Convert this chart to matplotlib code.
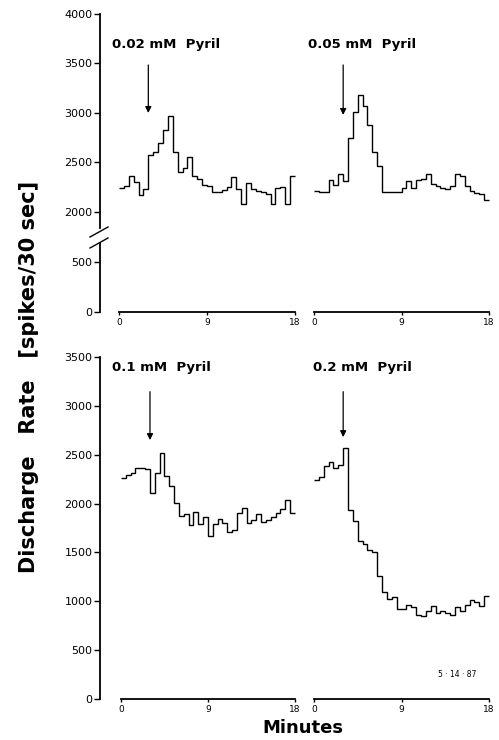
import numpy as np
import matplotlib.pyplot as plt

# 30-second bins over the 18 minute recording
bin_edges = np.linspace(0, 18, 37)

# discharge rate (spikes / 30 sec) per bin
rate_002 = [2240, 2265, 2365, 2305, 2175, 2230, 2575, 2610, 2700, 2830, 2965, 2610,
            2405, 2440, 2555, 2365, 2330, 2275, 2265, 2205, 2205, 2225, 2250, 2350,
            2230, 2080, 2295, 2230, 2215, 2205, 2185, 2080, 2240, 2250, 2080, 2360]
rate_005 = [2210, 2205, 2200, 2325, 2275, 2380, 2315, 2750, 3010, 3180, 3075, 2880,
            2610, 2460, 2205, 2200, 2200, 2205, 2245, 2315, 2245, 2325, 2330, 2380,
            2280, 2265, 2245, 2230, 2265, 2380, 2365, 2265, 2210, 2190, 2180, 2120]
rate_01 = [2260, 2290, 2310, 2365, 2360, 2350, 2105, 2310, 2520, 2280, 2175, 2005,
           1870, 1895, 1780, 1910, 1790, 1865, 1670, 1790, 1840, 1800, 1705, 1725,
           1900, 1950, 1800, 1835, 1895, 1815, 1835, 1865, 1900, 1940, 2035, 1900]
rate_02 = [2245, 2275, 2385, 2430, 2360, 2395, 2565, 1935, 1820, 1620, 1585, 1525,
           1500, 1255, 1090, 1020, 1040, 920, 920, 965, 945, 860, 850, 905,
           950, 885, 905, 885, 860, 940, 905, 965, 1015, 995, 950, 1055]

doses = ['0.02 mM  Pyril', '0.05 mM  Pyril', '0.1 mM  Pyril', '0.2 mM  Pyril']
inject_min = 3

top_ticks = [2000, 2500, 3000, 3500, 4000]
break_ticks = [0, 500]
bottom_ticks = [0, 500, 1000, 1500, 2000, 2500, 3000, 3500]
x_ticks = [0, 9, 18]

W, H = 499, 740
fig = plt.figure(figsize=(W / 100, H / 100), dpi=100)
plt.rcParams['font.family'] = 'DejaVu Sans'


def box(x0, y0, x1, y1):
    return [x0 / W, 1 - y1 / H, (x1 - x0) / W, (y1 - y0) / H]


def clean(ax):
    for s in ax.spines.values():
        s.set_visible(False)
    ax.set_xticks([])
    ax.set_yticks([])
    ax.patch.set_alpha(0)


def style_y(ax, ticks, lo, hi):
    ax.spines['left'].set_visible(True)
    ax.spines['left'].set_bounds(lo, hi)
    ax.spines['left'].set_linewidth(1.3)
    ax.set_yticks(ticks)
    ax.set_yticklabels([str(t) for t in ticks])
    ax.tick_params(axis='y', direction='out', length=4, width=1, pad=1.5,
                   labelsize=8)


def style_x(ax):
    ax.spines['bottom'].set_visible(True)
    ax.spines['bottom'].set_bounds(0, 18)
    ax.spines['bottom'].set_linewidth(1.3)
    ax.set_xticks(x_ticks)
    ax.tick_params(axis='x', direction='out', length=2.5, width=1, pad=2,
                   labelsize=6.5)


def trace(ax, values, label, arrow_from, arrow_to, label_x, label_y):
    ax.stairs(values, bin_edges, baseline=None, color='black', lw=1.0,
              clip_on=False)
    ax.annotate('', xy=(inject_min, arrow_to), xytext=(inject_min, arrow_from),
                arrowprops=dict(arrowstyle='-|>', color='black', lw=0.9,
                                mutation_scale=9, shrinkA=0, shrinkB=0),
                annotation_clip=False)
    ax.text(label_x, label_y, label, fontsize=9.5, fontweight='bold',
            ha='left', va='center')


# --- top row: broken axis (2000-4000 above, 0-500 below) ---
up_l = fig.add_axes(box(100, 14, 295, 228))
low_l = fig.add_axes(box(100, 243, 295, 312))
up_r = fig.add_axes(box(314, 14, 489, 228))
low_r = fig.add_axes(box(314, 243, 489, 312))

for ax in (up_l, low_l, up_r, low_r):
    clean(ax)
for ax in (up_l, up_r):
    ax.set_ylim(1838, 4000)
for ax in (low_l, low_r):
    ax.set_ylim(0, 690)
for ax in (up_l, low_l):
    ax.set_xlim(-1.94, 18)
for ax in (up_r, low_r):
    ax.set_xlim(0, 18)

style_y(up_l, top_ticks, 1838, 4000)
style_y(low_l, break_ticks, 0, 690)
style_x(low_l)
style_x(low_r)

trace(up_l, rate_002, doses[0], 3485, 3000, -0.7, 3690)
trace(up_r, rate_005, doses[1], 3485, 2980, -0.6, 3690)

# break marks on the left axis
for y0, y1 in ((237, 227), (248, 238)):
    fig.add_artist(plt.Line2D([90 / W, 108 / W], [1 - y0 / H, 1 - y1 / H],
                              color='black', lw=1.0))

# --- bottom row ---
bot_l = fig.add_axes(box(100, 357, 295, 699))
bot_r = fig.add_axes(box(314, 357, 489, 699))
clean(bot_l)
clean(bot_r)
bot_l.set_xlim(-2.17, 18)
bot_r.set_xlim(0, 18)
bot_l.set_ylim(0, 3500)
bot_r.set_ylim(0, 3500)
style_y(bot_l, bottom_ticks, 0, 3500)
style_x(bot_l)
style_x(bot_r)

trace(bot_l, rate_01, doses[2], 3145, 2650, -0.9, 3390)
trace(bot_r, rate_02, doses[3], 3145, 2680, -0.1, 3390)

bot_r.text(12.8, 250, '5 · 14 · 87', fontsize=5.5, ha='left', va='center')

fig.text(29 / W, 1 - 377 / H, 'Discharge   Rate   [spikes/30 sec]', rotation=90,
         fontsize=15, fontweight='bold', ha='center', va='center')
fig.text(303 / W, 1 - 728 / H, 'Minutes', fontsize=13, fontweight='bold',
         ha='center', va='center')

fig.savefig('out.png', dpi=100)
